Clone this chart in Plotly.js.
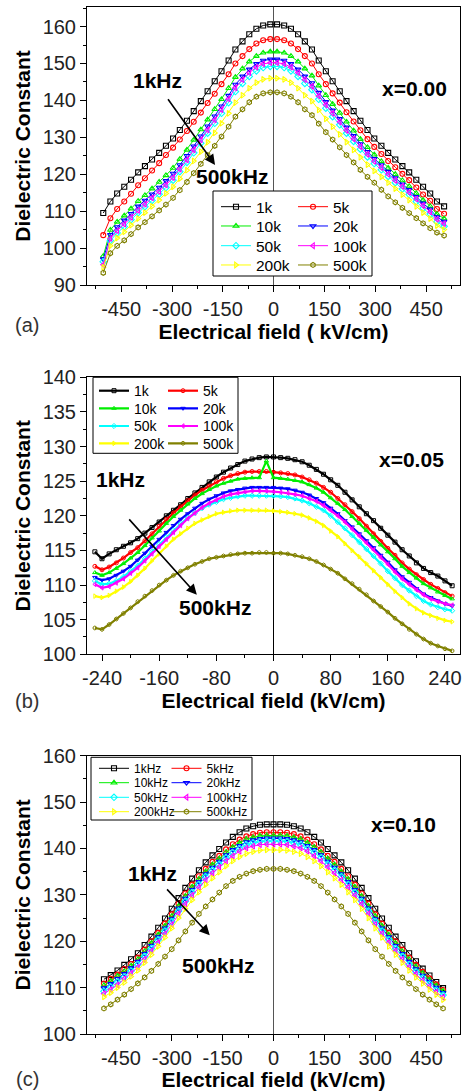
<!DOCTYPE html>
<html>
<head>
<meta charset="utf-8">
<script src="https://cdn.plot.ly/plotly-3.0.1.min.js"></script>
<style>html,body{margin:0;padding:0;background:#fff;}#chart{width:463px;height:1091px;}</style>
</head>
<body>
<div id="chart"></div>
<script>
// ---------------- DATA ----------------
const seriesNamesAB = ['1k','5k','10k','20k','50k','100k','200k','500k'];
const seriesNamesC = ['1kHz','5kHz','10kHz','20kHz','50kHz','100kHz','200kHz','500kHz'];

// Panel (a)  x = 0.00
const xA = [-503,-482,-462,-441,-421,-400,-380,-359,-338,-318,-297,-277,-256,-236,-215,-195,-174,-154,-133,-113,-92,-72,-51,-31,-10,
            10,31,51,72,92,113,133,154,174,195,215,236,256,277,297,318,338,359,380,400,421,441,462,482,503];
const a1k = [109.5,112.6,114.8,116.6,118.5,120.5,122.2,124.0,125.8,127.7,129.7,132.0,134.5,137.1,139.8,142.5,145.2,147.9,150.8,153.8,156.0,157.9,159.4,160.3,160.6,
             160.6,160.3,159.4,157.9,156.0,153.8,150.8,147.9,145.2,142.5,139.8,137.1,134.5,132.0,129.7,127.7,125.8,124.0,122.2,120.5,118.5,116.6,114.8,112.6,111.3];
const a5k = [103.5,108.1,110.6,112.6,114.7,117.0,118.9,121.0,123.0,125.2,127.2,129.4,131.7,134.2,136.7,139.3,141.8,144.4,147.1,150.0,152.0,153.9,155.4,156.3,156.6,
             156.6,156.3,155.4,153.9,152.0,150.0,147.1,144.4,141.9,139.4,136.8,134.3,131.9,129.5,127.4,125.5,123.6,121.9,120.1,118.4,116.4,114.5,112.8,110.6,109.3];
const a10k = [97.8,104.9,107.1,108.8,110.7,112.7,114.3,116.1,117.9,119.7,121.7,124.1,126.6,129.3,132.1,134.8,137.6,140.3,143.3,146.3,148.6,150.5,152.0,152.9,153.2,
              153.2,152.9,152.0,150.5,148.6,146.7,144.0,141.4,139.0,136.6,134.2,131.8,129.5,127.3,125.3,123.5,121.7,120.0,118.3,116.7,114.8,113.0,111.3,109.2,108.0];
const a20k = [97.0,103.6,105.7,107.5,109.3,111.3,112.9,114.6,116.4,118.2,120.2,122.5,125.0,127.6,130.3,133.0,135.7,138.4,141.3,144.3,146.5,148.4,149.9,150.8,151.1,
              151.1,150.8,149.9,148.4,146.5,144.7,142.1,139.6,137.3,135.0,132.7,130.4,128.2,126.1,124.2,122.5,120.7,119.0,117.3,115.8,113.9,112.1,110.5,108.4,107.2];
const a50k = [96.3,102.0,104.1,105.8,107.7,109.6,111.2,112.9,114.6,116.4,118.4,120.7,123.2,125.8,128.4,131.1,133.8,136.5,139.4,142.4,144.6,146.5,148.0,148.9,149.2,
              149.2,148.9,148.0,146.5,144.6,142.9,140.3,137.9,135.6,133.4,131.1,128.9,126.8,124.7,122.9,121.2,119.4,117.7,116.0,114.5,112.6,110.8,109.2,107.1,105.9];
const a100k = [95.5,102.6,104.7,106.5,108.3,110.2,111.9,113.6,115.3,117.1,119.1,121.4,123.9,126.6,129.3,132.0,134.7,137.5,140.4,143.4,145.6,147.5,149.0,149.9,150.2,
               150.2,149.9,149.0,147.5,145.6,143.8,141.2,138.8,136.5,134.2,131.9,129.6,127.5,125.4,123.5,121.8,120.0,118.3,116.7,115.1,113.3,111.5,109.8,107.8,106.6];
const a200k = [94.8,100.6,102.7,104.4,106.2,108.0,109.6,111.3,113.0,114.8,116.6,118.8,121.1,123.6,126.1,128.7,131.2,133.8,136.5,139.4,141.4,143.3,144.8,145.7,146.0,
               146.0,145.7,144.8,143.3,141.4,139.8,137.4,135.0,132.9,130.8,128.7,126.6,124.6,122.6,120.9,119.3,117.7,116.1,114.5,113.0,111.3,109.6,108.0,106.1,105.0];
const a500k = [93.3,98.6,100.6,102.1,103.8,105.6,107.0,108.6,110.2,111.8,113.6,115.7,117.9,120.3,122.8,125.2,127.7,130.2,132.9,135.6,137.6,139.5,141.0,141.9,142.2,
               142.2,141.9,141.0,139.5,137.6,136.0,133.7,131.4,129.4,127.3,125.2,123.2,121.2,119.3,117.7,115.8,114.0,112.4,110.9,109.5,108.1,106.7,105.4,104.2,103.4];

// Panel (b)  x = 0.05
const xB = [-250,-240,-230,-220,-210,-200,-190,-180,-170,-160,-150,-140,-130,-120,-110,-100,-90,-80,-70,-60,-50,-40,-30,-20,-10,0,
            10,20,30,40,50,60,70,80,90,100,110,120,130,140,150,160,170,180,190,200,210,220,230,240,250];
const b1k = [114.8,113.8,114.5,115.1,115.6,116.1,116.7,117.5,118.3,119.1,120.0,120.8,121.6,122.5,123.3,124.1,124.9,125.6,126.3,126.9,127.4,127.9,128.2,128.4,128.5,128.5,
             128.4,128.3,128.1,127.8,127.3,126.7,126.0,125.2,124.4,123.4,122.3,121.3,120.3,119.3,118.2,117.2,116.2,115.1,114.2,113.2,112.4,111.8,111.3,110.6,109.9];
const b5k = [112.7,112.2,112.6,113.2,113.9,114.7,115.4,116.4,117.4,118.5,119.5,120.4,121.3,122.2,123.0,123.7,124.3,124.9,125.4,125.8,126.1,126.3,126.4,126.4,126.4,126.3,
             126.2,126.1,125.9,125.6,125.2,124.7,124.1,123.4,122.5,121.6,120.6,119.6,118.5,117.4,116.3,115.3,114.3,113.2,112.3,111.5,110.8,110.1,109.5,108.9,108.4];
const b10k = [111.8,111.4,111.8,112.4,113.1,113.9,114.7,115.7,116.8,117.8,118.9,119.9,120.8,121.7,122.5,123.2,123.8,124.3,124.7,125.0,125.3,125.4,125.5,125.5,127.9,125.5,
              125.4,125.3,125.1,124.9,124.5,124.0,123.4,122.6,121.8,120.9,119.9,118.9,117.9,116.9,115.8,114.8,113.8,112.7,111.8,111.0,110.2,109.6,109.0,108.5,108.0];
const b20k = [111.1,110.7,110.9,111.4,112.0,112.7,113.6,114.6,115.6,116.6,117.6,118.6,119.5,120.3,121.1,121.8,122.4,122.9,123.3,123.6,123.8,124.0,124.1,124.1,124.1,124.1,
              124.0,123.9,123.7,123.4,123.0,122.5,121.9,121.1,120.3,119.3,118.4,117.4,116.4,115.4,114.3,113.3,112.2,111.2,110.4,109.5,108.7,108.2,107.7,107.3,107.0];
const b50k = [110.6,110.1,110.2,110.6,111.2,112.0,112.8,113.8,114.8,115.9,116.9,117.9,118.8,119.7,120.4,121.1,121.6,122.0,122.4,122.6,122.8,122.9,122.9,122.9,122.9,122.9,
              122.8,122.7,122.5,122.2,121.8,121.3,120.8,120.0,119.1,118.2,117.2,116.2,115.2,114.2,113.1,112.0,111.0,110.0,109.2,108.4,107.7,107.2,106.8,106.5,106.3];
const b100k = [110.1,109.6,109.8,110.3,110.9,111.7,112.5,113.5,114.5,115.6,116.6,117.6,118.6,119.6,120.4,121.2,121.8,122.3,122.8,123.1,123.3,123.5,123.6,123.6,123.6,123.5,
               123.4,123.3,123.1,122.9,122.5,122.1,121.5,120.8,120.0,119.1,118.1,117.1,116.1,115.1,114.0,113.0,111.9,110.9,110.1,109.3,108.6,108.0,107.6,107.3,107.1];
const b200k = [108.4,108.2,108.5,109.1,109.7,110.5,111.4,112.4,113.5,114.5,115.6,116.6,117.4,118.2,118.9,119.4,119.9,120.3,120.5,120.7,120.8,120.8,120.8,120.8,120.8,120.7,
               120.6,120.5,120.3,120.1,119.7,119.2,118.6,117.8,117.0,116.0,115.0,114.1,113.1,112.1,111.1,110.1,109.1,108.2,107.3,106.6,106.0,105.6,105.2,104.9,104.7];
const b500k = [103.8,103.6,104.3,105.1,105.9,106.7,107.6,108.4,109.2,110.0,110.7,111.4,112.0,112.5,113.0,113.4,113.8,114.0,114.2,114.4,114.5,114.6,114.6,114.7,114.7,114.6,
               114.6,114.5,114.3,114.1,113.8,113.4,112.9,112.3,111.7,110.9,110.2,109.4,108.6,107.7,106.9,106.1,105.2,104.4,103.6,102.9,102.2,101.6,101.2,100.8,100.5];

// Panel (c)  x = 0.10
const xC = [-500,-480,-460,-440,-420,-400,-380,-360,-340,-320,-300,-280,-260,-240,-220,-200,-180,-160,-140,-120,-100,-80,-60,-40,-20,0,
            20,40,60,80,100,120,140,160,180,200,220,240,260,280,300,320,340,360,380,400,420,440,460,480,500];
const c1k = [111.8,112.7,113.7,114.9,116.1,117.4,119.2,121.0,122.9,124.9,127.0,129.3,131.5,133.5,135.3,137.0,138.5,139.9,141.3,142.5,143.5,144.3,144.8,145.1,145.2,145.2,
             145.2,145.1,144.8,144.3,143.5,142.5,141.3,139.9,138.5,137.0,135.3,133.5,131.5,129.3,127.0,124.9,122.9,121.0,119.2,117.4,115.7,114.1,112.6,111.2,109.9];
const c5k = [110.9,111.9,112.8,114.0,115.1,116.5,118.2,120.0,121.8,123.8,125.8,128.1,130.3,132.2,134.0,135.6,137.1,138.4,139.8,140.9,141.9,142.6,143.1,143.4,143.5,143.5,
             143.5,143.4,143.1,142.6,141.9,140.9,139.8,138.4,137.1,135.6,134.0,132.2,130.3,128.1,125.8,123.8,121.8,120.0,118.2,116.5,114.9,113.4,112.0,110.7,109.5];
const c10k = [110.5,111.4,112.5,113.5,114.7,116.1,117.8,119.6,121.4,123.3,125.4,127.6,129.7,131.7,133.4,135.0,136.5,137.8,139.2,140.3,141.2,142.0,142.4,142.7,142.8,142.8,
              142.8,142.7,142.4,142.0,141.2,140.3,139.2,137.8,136.5,135.0,133.4,131.7,129.7,127.6,125.4,123.3,121.4,119.6,117.8,116.1,114.5,113.1,111.7,110.4,109.3];
const c20k = [109.9,110.8,111.9,113.0,114.2,115.6,117.3,119.0,120.9,122.8,124.8,127.1,129.2,131.1,132.8,134.5,135.9,137.2,138.6,139.7,140.6,141.4,141.8,142.1,142.2,142.2,
              142.2,142.1,141.8,141.4,140.6,139.7,138.6,137.2,135.9,134.5,132.8,131.1,129.2,127.1,124.8,122.8,120.9,119.0,117.3,115.6,114.0,112.6,111.3,110.0,108.9];
const c50k = [109.2,110.1,111.2,112.3,113.6,115.0,116.7,118.4,120.3,122.2,124.2,126.5,128.6,130.5,132.2,133.9,135.3,136.6,138.0,139.1,140.0,140.8,141.2,141.5,141.6,141.6,
              141.6,141.5,141.2,140.8,140.0,139.1,138.0,136.6,135.3,133.9,132.2,130.5,128.6,126.5,124.2,122.2,120.3,118.4,116.7,115.0,113.4,112.1,110.8,109.5,108.4];
const c100k = [108.7,109.6,110.6,111.9,113.1,114.4,116.1,117.9,119.7,121.6,123.6,125.9,128.0,129.9,131.6,133.2,134.7,136.0,137.3,138.4,139.4,140.1,140.5,140.8,140.9,140.9,
               140.9,140.8,140.5,140.1,139.4,138.4,137.3,136.0,134.7,133.2,131.6,129.9,128.0,125.9,123.6,121.6,119.7,117.9,116.1,114.4,112.9,111.5,110.2,109.0,107.9];
const c200k = [108.0,108.9,110.0,111.1,112.4,113.7,115.4,117.1,118.9,120.8,122.8,125.0,127.0,128.9,130.6,132.2,133.6,134.9,136.2,137.3,138.2,138.9,139.3,139.6,139.7,139.7,
               139.7,139.6,139.3,138.9,138.2,137.3,136.2,134.9,133.6,132.2,130.6,128.9,127.0,125.0,122.8,120.8,118.9,117.1,115.4,113.7,112.2,110.9,109.6,108.5,107.4];
const c500k = [105.5,106.4,107.4,108.5,109.7,110.9,112.2,113.6,115.1,116.7,118.3,120.2,122.1,124.0,125.9,127.5,129.0,130.5,131.9,133.0,133.9,134.6,135.1,135.4,135.6,135.6,
               135.6,135.4,135.1,134.6,133.9,133.0,131.9,130.5,129.0,127.5,125.9,124.0,122.1,120.2,118.3,116.7,115.1,113.6,112.2,110.9,109.7,108.5,107.4,106.4,105.5];

// Tick labels
const xTickValsA = [-450,-300,-150,0,150,300,450];
const xTickTextA = ['-450','-300','-150','0','150','300','450'];
const xTickValsB = [-240,-160,-80,0,80,160,240];
const xTickTextB = ['-240','-160','-80','0','80','160','240'];

// ---------------- STYLE ----------------
const FONT = 'Liberation Sans, Arial, Helvetica, sans-serif';
const colors = ['#000000','#ff0000','#00ee00','#0000ff','#00ffff','#ff00ff','#ffff00','#808000'];
const symbols = ['square-open','circle-open','triangle-up-open','triangle-down-open','diamond-open','triangle-left-open','triangle-right-open','hexagon-open'];
const W = 463, H = 1091;
const PX = p => p / W;
const PY = p => 1 - p / H;

// legend placement per panel: column left edges (px), row tops (px), font size
const legendSpec = [
  {cols: [216, 293], tops: [190.1, 209.4, 229.1, 248.4], size: 15.5},
  {cols: [94, 163], tops: [375.1, 392.7, 410.4, 427.7], size: 14},
  {cols: [94, 166.5], tops: [753.8, 768.2, 782.8, 797.2], size: 12}
];

const traces = [];
const layoutLegends = {};
function addPanel(p, x, ys, names, xa, ya, opts) {
  ys.forEach((y, i) => {
    const n = p * 8 + i + 1;
    const lid = n === 1 ? 'legend' : 'legend' + n;
    const spec = legendSpec[p];
    layoutLegends[lid] = {
      x: PX(spec.cols[i % 2]), y: PY(spec.tops[Math.floor(i / 2)]), xanchor: 'left', yanchor: 'top',
      bgcolor: 'rgba(0,0,0,0)', borderwidth: 0, itemwidth: 30,
      font: {family: FONT, size: spec.size, color: '#000'}
    };
    traces.push({
      type: 'scatter', mode: 'lines+markers', x: x, y: y, name: names[i],
      xaxis: xa, yaxis: ya, legend: lid,
      line: {color: colors[i], width: opts.lw},
      marker: {symbol: symbols[i], color: colors[i], size: opts.ms, line: {color: colors[i], width: opts.mlw}},
      hoverinfo: 'skip'
    });
  });
}
addPanel(0, xA, [a1k,a5k,a10k,a20k,a50k,a100k,a200k,a500k], seriesNamesAB, 'x', 'y', {lw: 1, ms: 5, mlw: 1.1});
addPanel(1, xB, [b1k,b5k,b10k,b20k,b50k,b100k,b200k,b500k], seriesNamesAB, 'x2', 'y2', {lw: 2.2, ms: 4, mlw: 1});
addPanel(2, xC, [c1k,c5k,c10k,c20k,c50k,c100k,c200k,c500k], seriesNamesC, 'x3', 'y3', {lw: 1, ms: 5, mlw: 1.1});

const baseAxis = {
  showline: true, linecolor: '#000', linewidth: 1, mirror: true,
  ticks: 'outside', ticklen: 6, tickwidth: 1, tickcolor: '#000',
  showgrid: false, zeroline: false,
  tickfont: {family: FONT, size: 20, color: '#222'},
  automargin: false
};
const xTitle = (t, s) => ({text: '<b>' + t + '</b>', font: {family: FONT, size: 21, color: '#000'}, standoff: s});
const yTitle = {text: '<b>Dielectric Constant</b>', font: {family: FONT, size: 21, color: '#000'}, standoff: 6};
const xDom = [PX(87), PX(460)];

const layout = Object.assign({
  width: W, height: H,
  margin: {l: 0, r: 0, t: 0, b: 0},
  paper_bgcolor: '#fff', plot_bgcolor: '#fff',
  font: {family: FONT, color: '#000'},
  xaxis: Object.assign({}, baseAxis, {domain: xDom, anchor: 'y', range: [-551, 550],
    tickmode: 'array', tickvals: xTickValsA, ticktext: xTickTextA,
    minor: {tickmode: 'linear', tick0: 0, dtick: 75, ticks: 'outside', ticklen: 3, tickcolor: '#000', showgrid: false},
    zeroline: true, zerolinecolor: '#555', zerolinewidth: 1.5, title: xTitle('Electrical field ( kV/cm)', 0)}),
  yaxis: Object.assign({}, baseAxis, {domain: [PY(285), PY(7)], anchor: 'x', range: [90, 165.3], tick0: 0, dtick: 10,
    minor: {dtick: 5, ticks: 'outside', ticklen: 3, tickcolor: '#000', showgrid: false}, title: yTitle}),
  xaxis2: Object.assign({}, baseAxis, {domain: xDom, anchor: 'y2', range: [-261, 261],
    tickmode: 'array', tickvals: xTickValsB, ticktext: xTickTextB,
    minor: {tickmode: 'linear', tick0: 0, dtick: 40, ticks: 'outside', ticklen: 3, tickcolor: '#000', showgrid: false},
    zeroline: true, zerolinecolor: '#000', zerolinewidth: 1, title: xTitle('Electrical field (kV/cm)', 2)}),
  yaxis2: Object.assign({}, baseAxis, {domain: [PY(654.3), PY(377.3)], anchor: 'x2', range: [100, 140], tick0: 0, dtick: 5,
    minor: {dtick: 2.5, ticks: 'outside', ticklen: 3, tickcolor: '#000', showgrid: false}, title: yTitle}),
  xaxis3: Object.assign({}, baseAxis, {domain: xDom, anchor: 'y3', range: [-550, 550],
    tickmode: 'array', tickvals: xTickValsA, ticktext: xTickTextA,
    minor: {tickmode: 'linear', tick0: 0, dtick: 75, ticks: 'outside', ticklen: 3, tickcolor: '#000', showgrid: false},
    zeroline: true, zerolinecolor: '#555', zerolinewidth: 1.5, title: xTitle('Electrical field (kV/cm)', 2)}),
  yaxis3: Object.assign({}, baseAxis, {domain: [PY(1034), PY(755.7)], anchor: 'x3', range: [100, 160], tick0: 0, dtick: 10,
    minor: {dtick: 5, ticks: 'outside', ticklen: 3, tickcolor: '#000', showgrid: false}, title: yTitle}),
  shapes: [
    {type: 'rect', xref: 'paper', yref: 'paper', x0: PX(213), x1: PX(372), y0: PY(276), y1: PY(191), line: {color: '#000', width: 1}, fillcolor: '#fff', layer: 'above'},
    {type: 'rect', xref: 'paper', yref: 'paper', x0: PX(93), x1: PX(238), y0: PY(453.3), y1: PY(377.3), line: {color: '#000', width: 1}, fillcolor: '#fff', layer: 'above'},
    {type: 'rect', xref: 'paper', yref: 'paper', x0: PX(91), x1: PX(252), y0: PY(820), y1: PY(757.3), line: {color: '#000', width: 1}, fillcolor: '#fff', layer: 'above'}
  ],
  annotations: [],
  showlegend: true
}, layoutLegends);

// text annotations
const annFont = {family: FONT, size: 21, color: '#000'};
function txt(xr, yr, x, y, t) {
  layout.annotations.push({xref: xr, yref: yr, x: x, y: y, text: '<b>' + t + '</b>', showarrow: false, font: annFont, xanchor: 'center', yanchor: 'middle'});
}
function arrow(xr, yr, x0, y0, x1, y1) {
  layout.annotations.push({xref: xr, yref: yr, axref: xr, ayref: yr, x: x1, y: y1, ax: x0, ay: y0, text: '',
    showarrow: true, arrowhead: 2, arrowsize: 1.3, arrowwidth: 1.6, arrowcolor: '#000'});
}
txt('x', 'y', -344, 145.5, '1kHz');
txt('x', 'y', -123, 119.5, '500kHz');
txt('x', 'y', 417, 143.1, 'x=0.00');
arrow('x', 'y', -315, 140.7, -173, 122.5);

txt('x2', 'y2', -213.6, 125.2, '1kHz');
txt('x2', 'y2', -82, 106.8, '500kHz');
txt('x2', 'y2', 193.4, 128.1, 'x=0.05');
arrow('x2', 'y2', -203.8, 119.7, -107.3, 108.6);

txt('x3', 'y3', -356, 134.7, '1kHz');
txt('x3', 'y3', -164.5, 114.7, '500kHz');
txt('x3', 'y3', 382, 145.1, 'x=0.10');
arrow('x3', 'y3', -318, 131.5, -188, 121.3);

[['(a)', 325], ['(b)', 701], ['(c)', 1079]].forEach(([t, y]) => {
  layout.annotations.push({xref: 'paper', yref: 'paper', x: PX(27), y: PY(y), text: t, showarrow: false,
    font: {family: FONT, size: 20, color: '#333'}, xanchor: 'center', yanchor: 'middle'});
});

Plotly.newPlot('chart', traces, layout, {displayModeBar: false, staticPlot: true});
</script>
</body>
</html>
